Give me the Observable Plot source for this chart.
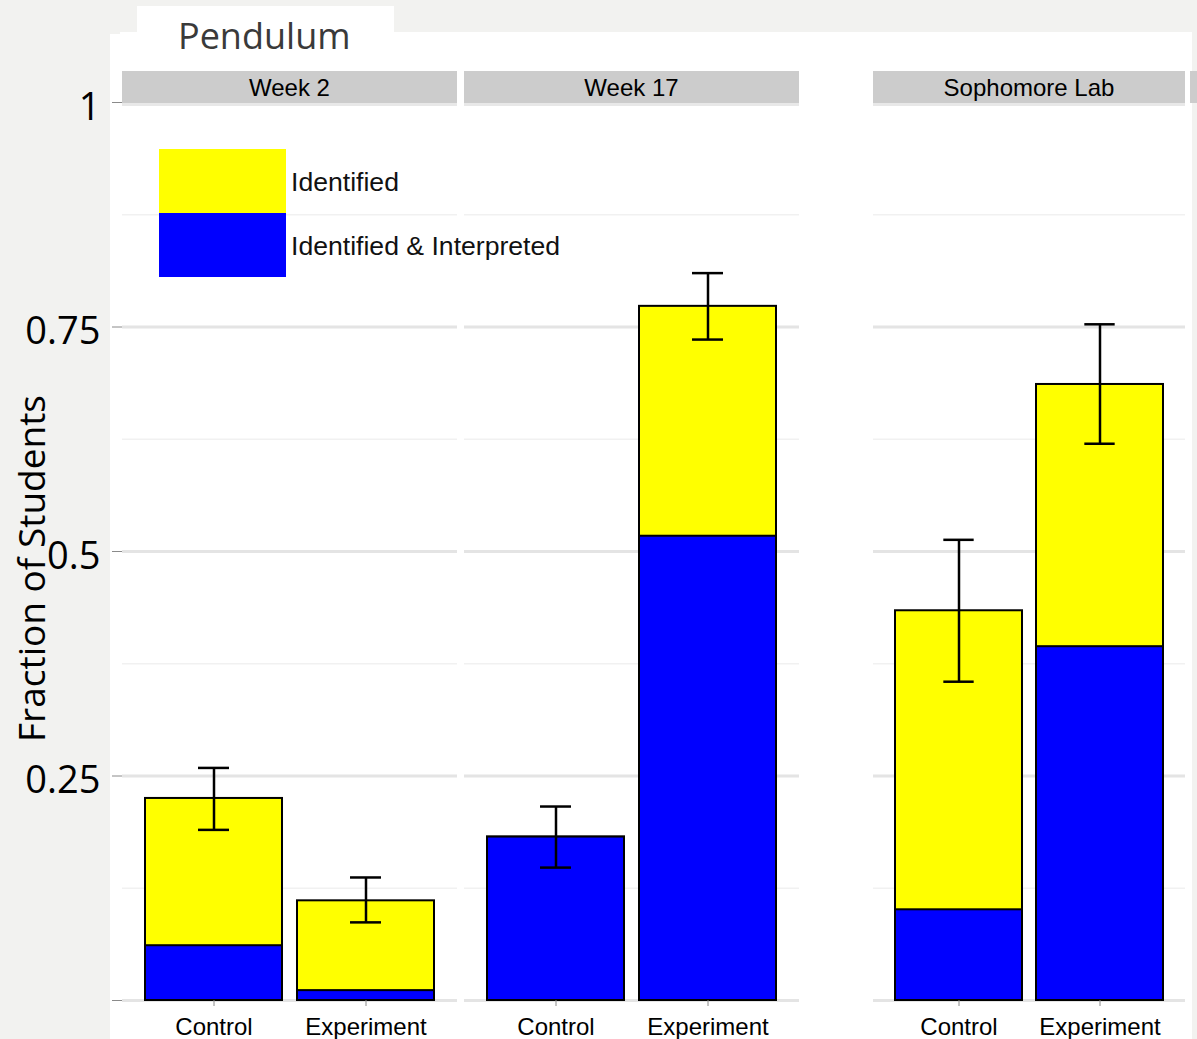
<!DOCTYPE html>
<html><head><meta charset="utf-8">
<script src="https://cdn.jsdelivr.net/npm/d3@7"></script>
<script src="https://cdn.jsdelivr.net/npm/@observablehq/plot@0.6"></script>
<style>
html,body{margin:0;padding:0;background:#f2f2f0;}
body{width:1197px;height:1039px;overflow:hidden;position:relative;}
#sheet{position:absolute;left:110px;top:34px;width:1082px;height:1005px;background:#fff;}
#sheet2{position:absolute;left:120px;top:32px;width:1072px;height:10px;background:#fff;}
#tab{position:absolute;left:137px;top:6px;width:257px;height:30px;background:#fff;}
#title{position:absolute;left:178px;top:16px;font-family:"Open Sans";font-size:36px;line-height:40px;color:#3a3a3a;white-space:nowrap;}
.strip{position:absolute;top:71px;height:32px;background:#cccccc;border-bottom:3px solid #e8e8e8;font-family:"Liberation Sans",Arial,sans-serif;font-size:24px;line-height:33px;text-align:center;color:#000;white-space:nowrap;overflow:hidden;}
#edge{position:absolute;left:1190px;top:71px;width:7px;height:32px;background:#cccccc;}
.panel{position:absolute;top:0;}
.panel svg{overflow:visible;}
.lg-box{position:absolute;left:159px;width:127px;height:64px;}
.lg-lab{position:absolute;left:291px;font-family:"Liberation Sans",Arial,sans-serif;font-size:26.6px;line-height:30px;color:#111;white-space:nowrap;}
</style></head><body>
<div id="sheet"></div><div id="sheet2"></div><div id="tab"></div>
<div id="title"></div>
<div id="root"></div>
<div id="edge"></div>
<script>
// ---- data ----
const chartTitle = "Pendulum";
const facets = ["Week 2", "Week 17", "Sophomore Lab"];
const groups = ["Control", "Experiment"];
// values listed facet by facet, Control then Experiment
const identified  = [0.225, 0.111, 0.182, 0.773, 0.434, 0.686];
const interpreted = [0.061, 0.011, 0.182, 0.517, 0.101, 0.394];
const errLow      = [0.190, 0.087, 0.148, 0.736, 0.355, 0.620];
const errHigh     = [0.259, 0.137, 0.216, 0.810, 0.513, 0.753];
const seriesNames = ["Identified", "Identified & Interpreted"];
const seriesColors = ["#ffff00", "#0000ff"];
const yTickValues = [0, 0.25, 0.5, 0.75, 1];
const yTickLabels = ["", "0.25", "0.5", "0.75", "1"];
const yMinorTicks = [0.125, 0.375, 0.625, 0.875];
const yTitle = "Fraction of Students";

// ---- layout ----
const panels = [
  {left: 0, width: 457, marginLeft: 122},
  {left: 464, width: 335, marginLeft: 0},
  {left: 873, width: 312, marginLeft: 0}
];
const root = document.getElementById("root");
document.getElementById("title").textContent = chartTitle;

facets.forEach((facet, i) => {
  const p = panels[i];
  const rows = groups.map((g, j) => ({
    group: g,
    identified: identified[2 * i + j],
    interpreted: interpreted[2 * i + j],
    lo: errLow[2 * i + j],
    hi: errHigh[2 * i + j]
  }));
  const panelW = p.width - p.marginLeft;
  const step = panelW / 2.2;
  const bw = step * 0.9;
  const inset = (bw - 31) / 2;
  const marks = [
    Plot.ruleY(yMinorTicks, {stroke: "#f1f1f1", strokeWidth: 1.5}),
    Plot.ruleY(yTickValues, {stroke: "#e4e4e4", strokeWidth: 3}),
    Plot.barY(rows, {x: "group", y: "identified", fill: seriesColors[0], stroke: "#000", strokeWidth: 2}),
    Plot.barY(rows, {x: "group", y: "interpreted", fill: seriesColors[1], stroke: "#000", strokeWidth: 2}),
    Plot.ruleX(rows, {x: "group", y1: "lo", y2: "hi", stroke: "#000", strokeWidth: 2.5}),
    Plot.tickY(rows, {x: "group", y: "lo", insetLeft: inset, insetRight: inset, stroke: "#000", strokeWidth: 2.5}),
    Plot.tickY(rows, {x: "group", y: "hi", insetLeft: inset, insetRight: inset, stroke: "#000", strokeWidth: 2.5}),
    Plot.axisX({tickSize: 6, tickPadding: 11, fontSize: 24, fontFamily: "Liberation Sans", stroke: "#8a8a8a", fill: "#000", label: null})
  ];
  if (i === 0) {
    marks.push(
      Plot.axisY({ticks: yTickValues, tickFormat: () => "", tickSize: 10, stroke: "#8a8a8a", label: null}),
      Plot.axisY({ticks: yTickValues, tickFormat: d => yTickLabels[yTickValues.indexOf(d)], tickSize: 0, tickPadding: 22, dy: 5,
        fontSize: 38, fontFamily: "Open Sans", fill: "#000", label: null}),
      Plot.text([yTitle], {text: d => d, frameAnchor: "left", textAnchor: "middle", dx: -89, dy: 17, rotate: -90,
        fontSize: 37, fontFamily: "Open Sans", fill: "#000"})
    );
  }
  const chart = Plot.plot({
    width: p.width, height: 1039,
    marginTop: 102, marginBottom: 39, marginLeft: p.marginLeft, marginRight: 0,
    style: {background: "transparent", overflow: "visible"},
    x: {domain: groups, paddingInner: 0.1, paddingOuter: 0.15, axis: null},
    y: {domain: [0, 1], axis: null},
    marks
  });
  const wrap = document.createElement("div");
  wrap.className = "panel";
  wrap.style.left = p.left + "px";
  wrap.appendChild(chart);
  root.appendChild(wrap);

  const strip = document.createElement("div");
  strip.className = "strip";
  strip.style.left = (p.left + p.marginLeft) + "px";
  strip.style.width = panelW + "px";
  strip.textContent = facet;
  document.body.appendChild(strip);
});

// legend
seriesNames.forEach((name, k) => {
  const box = document.createElement("div");
  box.className = "lg-box";
  box.style.top = (149 + 64 * k) + "px";
  box.style.background = seriesColors[k];
  document.body.appendChild(box);
  const lab = document.createElement("div");
  lab.className = "lg-lab";
  lab.style.top = (167 + 64 * k) + "px";
  lab.textContent = name;
  document.body.appendChild(lab);
});
</script>
</body></html>
